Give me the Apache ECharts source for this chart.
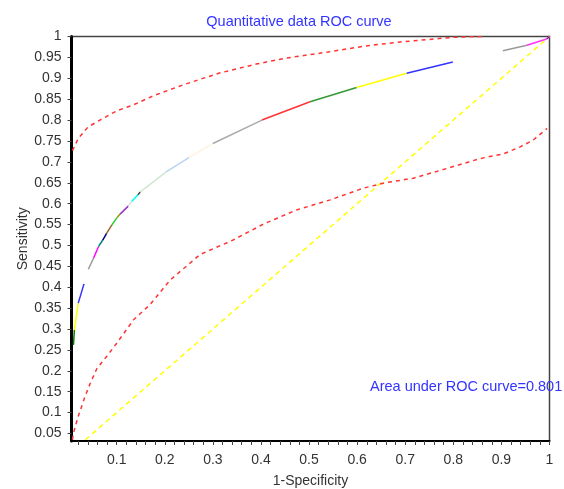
<!DOCTYPE html>
<html>
<head>
<meta charset="utf-8">
<script src="https://cdn.jsdelivr.net/npm/echarts@6/dist/echarts.min.js"></script>
<style>
  html, body { margin: 0; padding: 0; background: #fff; }
  #chart { width: 564px; height: 489px; }
</style>
</head>
<body>
<div id="chart"></div>
<script>
// ROC curve points (1-specificity, sensitivity); each segment gets its own colour, null = gap
var rocX = [0.010, 0.012, 0.020, 0.032,
            0.041, 0.052, 0.062, 0.071, 0.079, 0.090, 0.101, 0.107, 0.124, 0.131, 0.144, 0.149,
            0.203, 0.251, 0.300, 0.402, 0.502, 0.599, 0.703, 0.799,
            0.903, 0.953, 0.994, 1.0]
var rocY = [0.262, 0.298, 0.362, 0.408,
            0.443, 0.470, 0.497, 0.513, 0.529, 0.549, 0.567, 0.575, 0.594, 0.605, 0.621, 0.628,
            0.676, 0.711, 0.744, 0.800, 0.844, 0.878, 0.912, 0.939,
            0.966, 0.979, 0.994, 1.0]
var segColors = ['#008000', '#ffff00', '#3333ff', null,
                 '#999999', '#ff00ff', '#008080', '#000080', '#996633', '#33cc33', '#999900',
                 '#9933cc', '#dddddd', '#00ffff', '#404040', '#d0e8d0', '#b8d4f0', '#fdf3e3',
                 '#aaaaaa', '#ff3333', '#339933', '#ffff00', '#3333ff', null,
                 '#999999', '#ff33ff', '#9900cc']

// confidence band (red dashed)
var upperX = [0.008, 0.020, 0.040, 0.065, 0.100, 0.134, 0.176, 0.240, 0.312, 0.390, 0.450,
              0.540, 0.615, 0.690, 0.770, 0.800, 0.860]
var upperY = [0.727, 0.756, 0.783, 0.800, 0.822, 0.836, 0.858, 0.885, 0.912, 0.934, 0.948,
              0.963, 0.977, 0.987, 0.995, 0.998, 1.0]
var lowerX = [0.008, 0.010, 0.020, 0.034, 0.045, 0.059, 0.079, 0.100, 0.135, 0.169, 0.211,
              0.273, 0.342, 0.405, 0.474, 0.544, 0.613, 0.654, 0.717, 0.786, 0.856, 0.904,
              0.939, 0.966, 0.991, 0.995]
var lowerY = [0.035, 0.051, 0.091, 0.138, 0.170, 0.206, 0.234, 0.266, 0.322, 0.358, 0.417,
              0.478, 0.513, 0.551, 0.585, 0.609, 0.637, 0.649, 0.661, 0.684, 0.708, 0.719,
              0.736, 0.752, 0.776, 0.780]

// reference diagonal
var diagX = [0.035, 1]
var diagY = [0.035, 1]

var xLabels = [0.1, 0.2, 0.3, 0.4, 0.5, 0.6, 0.7, 0.8, 0.9, 1]
var xTicks = [0.02, 0.04, 0.06, 0.08, 0.1, 0.12, 0.14, 0.16, 0.18, 0.2, 0.22, 0.24, 0.26, 0.28, 0.3,
              0.32, 0.34, 0.36, 0.38, 0.4, 0.42, 0.44, 0.46, 0.48, 0.5, 0.52, 0.54, 0.56, 0.58, 0.6,
              0.62, 0.64, 0.66, 0.68, 0.7, 0.72, 0.74, 0.76, 0.78, 0.8, 0.82, 0.84, 0.86, 0.88, 0.9,
              0.92, 0.94, 0.96, 0.98, 1]
var yLabels = [0.05, 0.1, 0.15, 0.2, 0.25, 0.3, 0.35, 0.4, 0.45, 0.5, 0.55, 0.6, 0.65, 0.7,
               0.75, 0.8, 0.85, 0.9, 0.95, 1]

var aucText = 'Area under ROC curve=0.801'

function pairs(xs, ys) {
    var out = []
    for (var i = 0; i < xs.length; i++) out.push([xs[i], ys[i]])
    return out
}

var font = 'Liberation Sans, Arial, sans-serif'
var series = []

series.push({
    type: 'line', data: pairs(diagX, diagY), symbol: 'none', silent: true,
    lineStyle: { color: '#ffff00', width: 1.5, type: [5, 4] }
})
series.push({
    type: 'line', data: pairs(upperX, upperY), symbol: 'none', silent: true,
    lineStyle: { color: '#ff3333', width: 1.5, type: [4, 4] }
})
series.push({
    type: 'line', data: pairs(lowerX, lowerY), symbol: 'none', silent: true,
    lineStyle: { color: '#ff3333', width: 1.5, type: [4, 4] }
})
// one short line per coloured step of the ROC curve
for (var i = 0; i < segColors.length; i++) {
    if (!segColors[i]) continue
    series.push({
        type: 'line', symbol: 'none', silent: true,
        data: [[rocX[i], rocY[i]], [rocX[i + 1], rocY[i + 1]]],
        lineStyle: { color: segColors[i], width: 1.5 }
    })
}

var myChart = echarts.init(document.getElementById('chart'))
var option = {
    animation: false,
    backgroundColor: '#fff',
    title: {
        text: 'Quantitative data ROC curve',
        left: 294, top: 9, textAlign: 'center',
        textStyle: { color: '#3333ff', fontSize: 14.5, fontWeight: 'normal', fontFamily: font }
    },
    grid: {
        left: 71.5, right: 14.5, top: 36.5, bottom: 48,
        outerBoundsMode: 'none', containLabel: false,
        show: true, borderColor: '#444', borderWidth: 1.5, backgroundColor: '#fff'
    },
    xAxis: {
        type: 'value', min: 0.006, max: 1,
        name: '1-Specificity', nameLocation: 'middle', nameGap: 33, nameMoveOverlap: false,
        nameTextStyle: { color: '#333', fontSize: 14, fontFamily: font },
        axisLine: { lineStyle: { color: '#000', width: 2 } },
        axisTick: { length: 4, customValues: xTicks, lineStyle: { color: '#444' } },
        axisLabel: { customValues: xLabels, color: '#333', fontSize: 14, fontFamily: font, margin: 12 },
        splitLine: { show: false }
    },
    yAxis: {
        type: 'value', min: 0.032, max: 1,
        name: 'Sensitivity', nameLocation: 'middle', nameGap: 41, nameMoveOverlap: false,
        nameTextStyle: { color: '#333', fontSize: 14, fontFamily: font },
        axisLine: { lineStyle: { color: '#000', width: 3 } },
        axisTick: { length: 4, customValues: yLabels, lineStyle: { color: '#444' } },
        axisLabel: { customValues: yLabels, color: '#333', fontSize: 14, fontFamily: font, margin: 10 },
        splitLine: { show: false }
    },
    graphic: [{
        type: 'text', left: 370, top: 379, z: 0,
        style: { text: aucText, fill: '#3333ff', fontSize: 14.5, fontFamily: font }
    }],
    series: series
}
myChart.setOption(option)
</script>
</body>
</html>
